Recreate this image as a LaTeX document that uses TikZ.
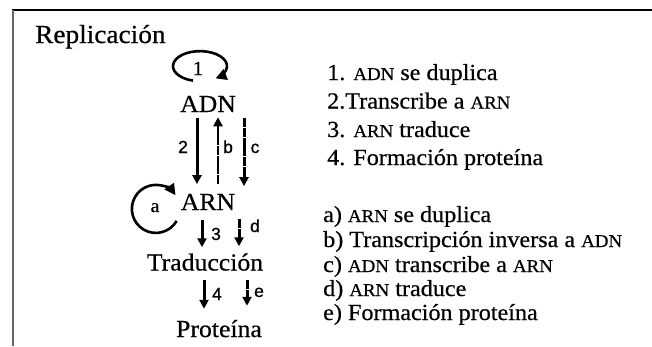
\documentclass[tikz,border=0pt]{standalone}
\usepackage{fontspec}
\setmainfont{Liberation Serif}[FakeStretch=1.05, FakeBold=0.5]
\newfontfamily\labelfont{Liberation Sans}[FakeBold=0.8]
\usetikzlibrary{arrows.meta}

% acronyms set in (fake) small caps
\newcommand{\acro}[1]{{\fontsize{18pt}{18pt}\selectfont #1}}

\begin{document}
\begin{tikzpicture}[
    x=1pt, y=1pt,
    stage/.style={inner sep=0pt, anchor=base, font=\fontsize{24.5pt}{28pt}\selectfont},
    listItem/.style={inner sep=0pt, anchor=base west, font=\fontsize{23pt}{28pt}\selectfont},
    flowArrow/.style={
        -{Triangle[length=9pt, width=9pt]}, line width=3pt
    },
    altArrow/.style={
        flowArrow, dash pattern=on 9pt off 0.7pt
    },
    loopArrow/.style={
        -{Triangle[length=11pt, width=11pt]}, line width=2.6pt
    },
    stepLabel/.style={inner sep=0pt, anchor=base, font=\fontsize{20pt}{20pt}\selectfont},
    altLabel/.style={inner sep=0pt, anchor=base, font=\labelfont\fontsize{17.5pt}{17.5pt}\selectfont}
]
\useasboundingbox (0,0) rectangle (652,-346);

% Frame (top and left edge only)
\draw[line width=2pt] (12,-10) -- (652,-10);
\draw[line width=2pt, draw=black!60] (13,-10) -- (13,-346);

% Title
\node[listItem, font=\fontsize{26pt}{28pt}\selectfont] (rep) at (35,-43) {Replicación};

% Stages
\node[stage] (adn) at (208,-112) {ADN};
\node[stage] (arn) at (208,-210) {ARN};
\node[stage] (trad) at (205,-270.5) {Traducción};
\node[stage] (prot) at (219,-337) {Proteína};

% Self loops
\draw[loopArrow] ([xshift=-15pt, yshift=15pt]adn.north) arc[start angle=255, end angle=-55, x radius=27, y radius=15];
\node[stepLabel] (l1) at (198,-75) {1};

\draw[loopArrow] ([xshift=-4pt, yshift=-19pt]arn.west) arc[start angle=330, end angle=35, radius=24];
\node[stepLabel, font=\fontsize{19pt}{19pt}\selectfont] (la) at (155,-212) {a};

% ADN <-> ARN
\draw[flowArrow, shorten <=6pt, shorten >=9.5pt] ([xshift=-11pt]adn.south) -- ([xshift=-11pt]arn.north);
\draw[altArrow, line width=2.4pt, shorten <=9.5pt, shorten >=5pt] ([xshift=10pt]arn.north) -- ([xshift=10pt]adn.south);
\draw[altArrow, shorten <=6pt, shorten >=7.5pt] ([xshift=36pt]adn.south) -- ([xshift=36pt]arn.north);
\node[altLabel] (l2) at (183,-153) {2};
\node[altLabel] (lb) at (228,-153) {b};
\node[altLabel] (lc) at (255,-153) {c};

% ARN -> Traduccion
\draw[flowArrow, shorten <=10pt, shorten >=6pt] ([xshift=-6pt]arn.south) -- ([xshift=-3pt]trad.north);
\draw[altArrow, shorten <=9pt, shorten >=7pt] ([xshift=31pt]arn.south) -- ([xshift=34pt]trad.north);
\node[altLabel] (l3) at (216,-240) {3};
\node[altLabel] (ld) at (255,-232) {d};

% Traduccion -> Proteina
\draw[flowArrow, shorten <=9.5pt, shorten >=11pt] ([xshift=-1pt]trad.south) -- ([xshift=-15pt]prot.north);
\draw[altArrow, shorten <=9.5pt, shorten >=14pt] ([xshift=42pt]trad.south) -- ([xshift=28pt]prot.north);
\node[altLabel] (l4) at (217,-300) {4};
\node[altLabel] (le) at (259,-297) {e};

% Legend: numbered steps
\node[listItem] (s1) at (327,-80) {1. \acro{ADN} se duplica};
\node[listItem] (s2) at (327,-108.5) {2.Transcribe a \acro{ARN}};
\node[listItem] (s3) at (327,-137) {3. \acro{ARN} traduce};
\node[listItem] (s4) at (327,-165) {4. Formación proteína};

% Legend: lettered steps
\node[listItem] (sa) at (323,-222) {a) \acro{ARN} se duplica};
\node[listItem] (sb) at (323,-247) {b) Transcripción inversa a \acro{ADN}};
\node[listItem] (sc) at (323,-272) {c) \acro{ADN} transcribe a \acro{ARN}};
\node[listItem] (sd) at (323,-296) {d) \acro{ARN} traduce};
\node[listItem] (se) at (323,-320) {e) Formación proteína};

\end{tikzpicture}
\end{document}
